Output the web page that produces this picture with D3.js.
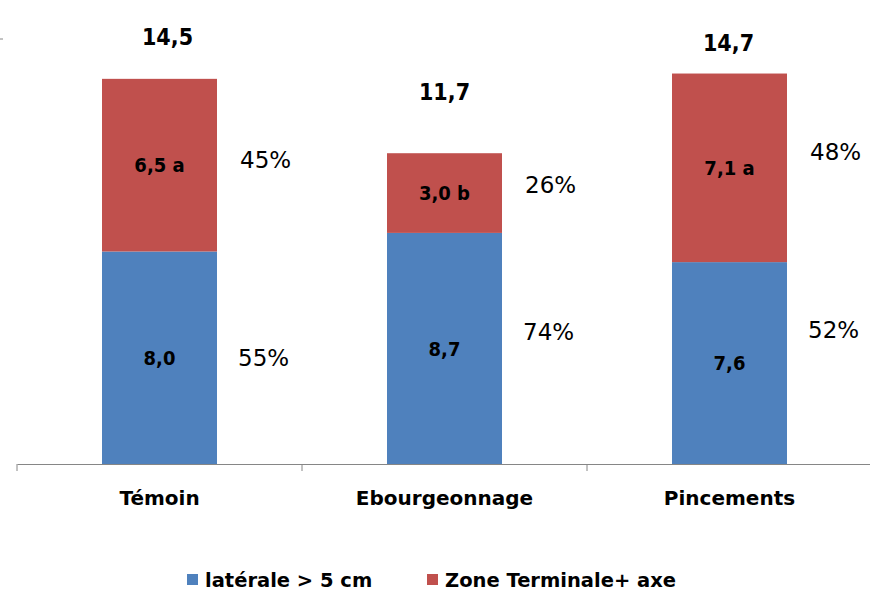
<!DOCTYPE html>
<html><head>
<meta charset="utf-8">
<script src="https://d3js.org/d3.v7.min.js"></script>
<style>
  body { margin: 0; background: #fff; }
  text { font-family: "DejaVu Sans", sans-serif; }
  .cond { font-family: "DejaVu Sans Condensed", "DejaVu Sans", sans-serif; }
  .axis line, .axis path { stroke: #868686; }
</style>
</head>
<body>
<svg id="chart" width="870" height="593"></svg>
<script>
// --- data
const categories = ["Témoin", "Ebourgeonnage", "Pincements"];
const lateral = [8.0, 8.7, 7.6];          // latérale > 5 cm
const terminal = [6.5, 3.0, 7.1];         // Zone Terminale+ axe
const letters = ["a", "b", "a"];
const totals = [14.5, 11.7, 14.7];
const pctLateral = ["55%", "74%", "52%"];
const pctTerminal = ["45%", "26%", "48%"];
const seriesNames = ["latérale > 5 cm", "Zone Terminale+ axe"];
const colors = ["#4F81BD", "#C0504D"];

// hand placed label nudges (as in the original)
const totalGap = [34, 53, 23];
const totalDx = [8, 0, -1];
const pctTermDy = [-5, -8, -16];
const pctLatDy = [0, -17, -33];

const svg = d3.select("#chart");
const margins = {top: 39, left: 17, right: -2, baseline: 464};

const x = d3.scaleBand().domain(categories).range([margins.left, 870 - margins.right]).paddingInner(0);
const y = d3.scaleLinear().domain([0, 16]).range([margins.baseline, margins.top]);
const barW = 115;

// top tick mark of the (hidden) value axis
svg.append("line").attr("x1", 0).attr("x2", 3).attr("y1", y(16)).attr("y2", y(16))
   .attr("stroke", "#868686");

const g = svg.append("g");
categories.forEach((c, i) => {
  const cx = x(c) + x.bandwidth() / 2;
  const x0 = cx - barW / 2;

  g.append("rect").attr("x", x0).attr("width", barW)
    .attr("y", y(lateral[i])).attr("height", y(0) - y(lateral[i]))
    .attr("fill", colors[0]);
  g.append("rect").attr("x", x0).attr("width", barW)
    .attr("y", y(lateral[i] + terminal[i])).attr("height", y(lateral[i]) - y(lateral[i] + terminal[i]))
    .attr("fill", colors[1]);

  const fmt = v => v.toFixed(1).replace(".", ",");

  g.append("text").attr("class", "cond").attr("x", cx).attr("y", (y(0) + y(lateral[i])) / 2).attr("dy", "0.36em")
    .attr("text-anchor", "middle").attr("font-weight", "bold").attr("font-size", 20)
    .text(fmt(lateral[i]));
  g.append("text").attr("class", "cond").attr("x", cx).attr("y", (y(lateral[i]) + y(lateral[i] + terminal[i])) / 2).attr("dy", "0.36em")
    .attr("text-anchor", "middle").attr("font-weight", "bold").attr("font-size", 20)
    .text(fmt(terminal[i]) + " " + letters[i]);

  g.append("text").attr("class", "cond").attr("x", cx + totalDx[i]).attr("y", y(totals[i]) - totalGap[i])
    .attr("text-anchor", "middle").attr("font-size", 23).attr("font-weight", "bold")
    .text(fmt(totals[i]));

  g.append("text").attr("x", x0 + barW + 23).attr("y", (y(lateral[i]) + y(totals[i])) / 2 + pctTermDy[i]).attr("dy", "0.36em")
    .attr("font-size", 23).text(pctTerminal[i]);
  g.append("text").attr("x", x0 + barW + 21).attr("y", (y(0) + y(lateral[i])) / 2 + pctLatDy[i]).attr("dy", "0.36em")
    .attr("font-size", 23).text(pctLateral[i]);
});

// category axis
const axis = d3.axisBottom(x).tickSizeOuter(0).tickSizeInner(0).tickPadding(27);
const ax = svg.append("g").attr("class", "axis").attr("transform", "translate(0," + y(0) + ")").call(axis);
ax.select(".domain").attr("stroke", "#868686");
ax.selectAll(".tick text").attr("font-size", 20).attr("font-weight", "bold").attr("fill", "#000")
  .attr("font-family", "'DejaVu Sans', sans-serif");
// separators between categories
const sep = d3.range(categories.length).map(i => x(categories[i]));
ax.selectAll("line.sep").data(sep).enter().append("line").attr("class", "sep")
  .attr("x1", d => d).attr("x2", d => d).attr("y1", 0).attr("y2", 7).attr("stroke", "#868686");

// legend
const legendX = [187, 427];
const legend = svg.append("g");
seriesNames.forEach((s, i) => {
  legend.append("rect").attr("x", legendX[i]).attr("y", 574).attr("width", 11).attr("height", 11).attr("fill", colors[i]);
  legend.append("text").attr("x", legendX[i] + 18).attr("y", 580).attr("dy", "0.36em")
    .attr("font-size", 19.5).attr("font-weight", "bold").text(s);
});
</script>
</body></html>
